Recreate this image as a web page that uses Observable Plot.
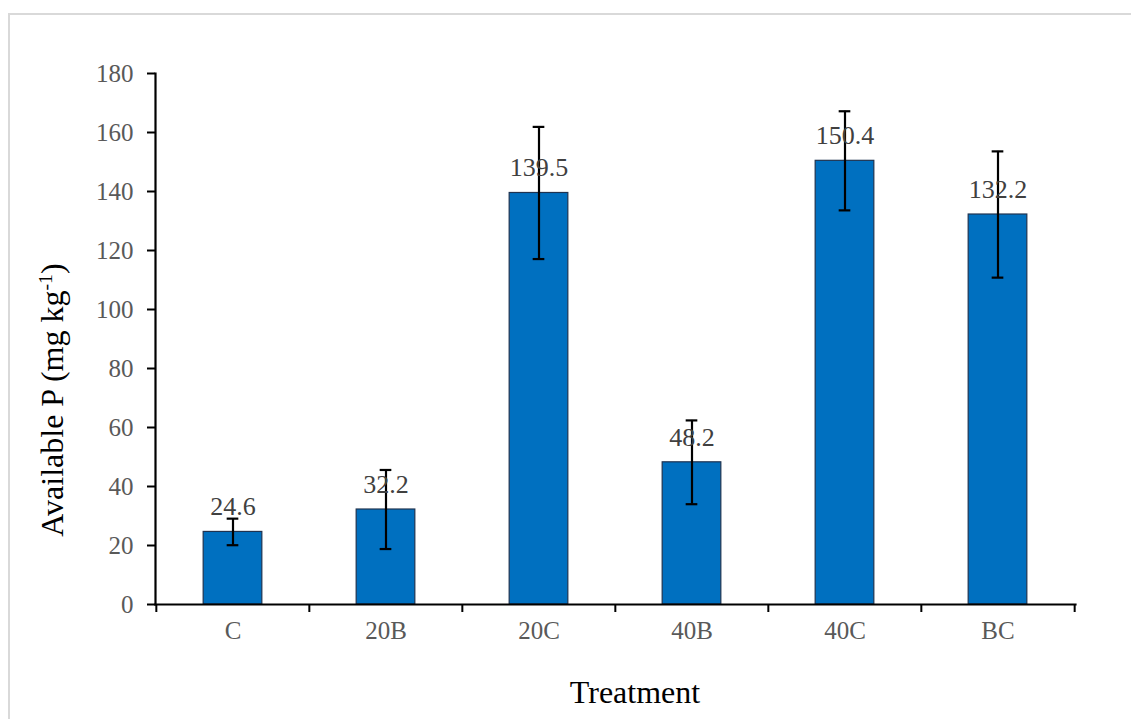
<!DOCTYPE html>
<html>
<head>
<meta charset="utf-8">
<script src="https://cdn.jsdelivr.net/npm/d3@7"></script>
<script src="https://cdn.jsdelivr.net/npm/@observablehq/plot@0.6"></script>
<style>
  html, body { margin: 0; padding: 0; background: #fff; }
  #wrap { position: relative; width: 1131px; height: 719px; overflow: hidden; font-family: "Liberation Serif", "Times New Roman", serif; }
  #border { position: absolute; left: 8px; top: 13px; width: 1200px; height: 800px; border: 2px solid #d9d9d9; box-sizing: border-box; }
  #chart { position: absolute; left: 0; top: 0; }
  .axt { position: absolute; color: #000; font-size: 32px; white-space: nowrap; }
  #ylab { left: 52px; top: 400px; transform: translate(-50%, -50%) rotate(-90deg); }
  #xlab { left: 635px; top: 692px; transform: translate(-50%, -50%); }
  sup { font-size: 0.62em; vertical-align: 0.55em; line-height: 0; }
</style>
</head>
<body>
<div id="wrap">
  <div id="border"></div>
  <div id="chart"></div>
  <div class="axt" id="ylab">Available P (mg kg<sup>-1</sup>)</div>
  <div class="axt" id="xlab">Treatment</div>
</div>
<script>
const treatments = ["C", "20B", "20C", "40B", "40C", "BC"];
const availableP = [24.6, 32.2, 139.5, 48.2, 150.4, 132.2];
const errorP = [4.5, 13.4, 22.4, 14.2, 16.8, 21.4];
const yTicks = [0, 20, 40, 60, 80, 100, 120, 140, 160, 180];

const data = treatments.map((t, i) => ({ t, v: availableP[i], e: errorP[i], lo: availableP[i] - errorP[i], hi: availableP[i] + errorP[i] }));

const W = 1131, H = 719, mL = 155, mR = 56, mT = 73, mB = 115;
const bw = (W - mL - mR) / treatments.length;
const barW = 59, capW = 12;

const plot = Plot.plot({
  width: W,
  height: H,
  marginLeft: mL,
  marginRight: mR,
  marginTop: mT,
  marginBottom: mB,
  style: { fontFamily: "'Liberation Serif', 'Times New Roman', serif", fontSize: "25px", background: "transparent", overflow: "visible" },
  x: { domain: treatments, padding: 0, label: null },
  y: { domain: [0, 180], label: null },
  marks: [
    Plot.barY(data, { x: "t", y: "v", fill: "#0070C0", stroke: "#1f3350", strokeWidth: 1.2, insetLeft: (bw - barW) / 2, insetRight: (bw - barW) / 2 }),
    Plot.ruleX(data, { x: "t", y1: "lo", y2: "hi", stroke: "#000", strokeWidth: 2.2 }),
    Plot.tickY(data, { x: "t", y: "lo", stroke: "#000", strokeWidth: 2.2, insetLeft: (bw - capW) / 2, insetRight: (bw - capW) / 2 }),
    Plot.tickY(data, { x: "t", y: "hi", stroke: "#000", strokeWidth: 2.2, insetLeft: (bw - capW) / 2, insetRight: (bw - capW) / 2 }),
    Plot.text(data, { x: "t", y: "v", text: d => d.v.toFixed(1), dy: -25, fill: "#404040", fontSize: 26 }),
    Plot.axisY({ ticks: yTicks, tickSize: 8, tickPadding: 14, tickFormat: d => d, color: "#595959", stroke: "#000", strokeWidth: 2, fontSize: 25, label: null }),
    Plot.axisX({ tickSize: 8, tickFormat: () => "", dx: -bw / 2, stroke: "#000", strokeWidth: 2, label: null }),
    Plot.axisX([treatments[treatments.length - 1]], { tickSize: 8, tickFormat: () => "", dx: bw / 2, stroke: "#000", strokeWidth: 2, label: null }),
    Plot.axisX({ tickSize: 0, tickPadding: 17, color: "#595959", fontSize: 25, label: null }),
    Plot.frame({ anchor: "left", stroke: "#000", strokeWidth: 2.2 }),
    Plot.frame({ anchor: "bottom", stroke: "#000", strokeWidth: 2.2 })
  ]
});
document.getElementById("chart").appendChild(plot);
</script>
</body>
</html>
